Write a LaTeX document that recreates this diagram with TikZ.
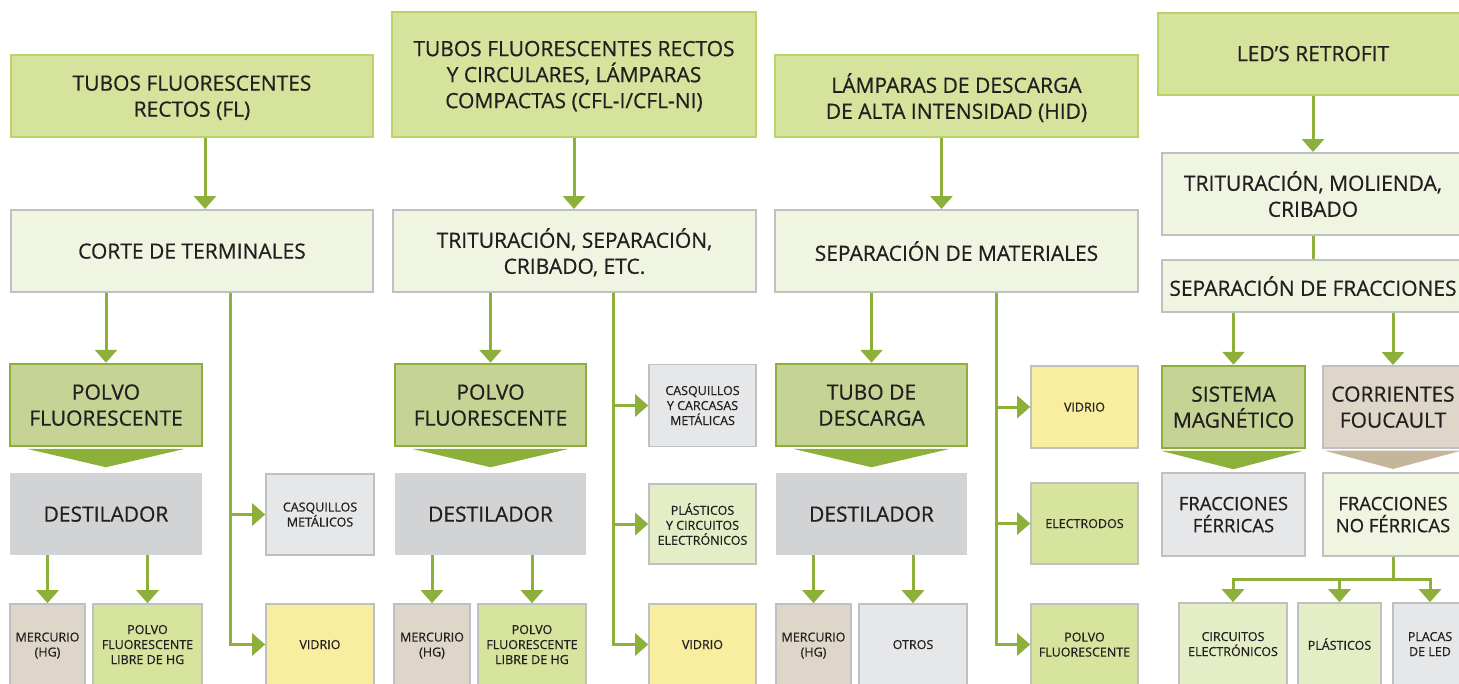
\documentclass[tikz,border=0pt]{standalone}
\usepackage{fontspec}
\setmainfont{Open Sans}[FakeBold=0.6]
\usetikzlibrary{arrows.meta}

\definecolor{txtdark}{HTML}{231F20}
\definecolor{topfill}{HTML}{D5E39C}
\definecolor{topline}{HTML}{B8D468}
\definecolor{procfill}{HTML}{F0F5E1}
\definecolor{boxline}{HTML}{BFC0C2}
\definecolor{keyfill}{HTML}{C5D394}
\definecolor{arrgreen}{HTML}{8DB03B}
\definecolor{destfill}{HTML}{D1D3D4}
\definecolor{beigefill}{HTML}{DED7C9}
\definecolor{greyfill}{HTML}{E6E7E8}
\definecolor{yellowfill}{HTML}{F9EDA0}
\definecolor{palegreen}{HTML}{E3EEC7}
\definecolor{lightgreen}{HTML}{D6E49E}
\definecolor{tanfill}{HTML}{C5B59B}

\newcommand\bigtxt{\fontsize{21}{26}\selectfont}
\newcommand\midtxt{\fontsize{18.5}{22}\selectfont}
\newcommand\smalltxt{\fontsize{12.5}{15}\selectfont}

\begin{document}
\begin{tikzpicture}[x=1pt,y=-1pt,
  every node/.style={text=txtdark, align=center, inner sep=0pt, text depth=0pt},
  topbox/.style={draw=topline, fill=topfill, line width=2pt, font=\bigtxt},
  procbox/.style={draw=boxline, fill=procfill, line width=2pt, font=\bigtxt},
  keybox/.style={draw=arrgreen, fill=keyfill, line width=2.5pt, font=\bigtxt},
  destbox/.style={fill=destfill, font=\bigtxt},
  outbox/.style={draw=boxline, line width=1.6pt, font=\smalltxt},
  arr/.style={draw=arrgreen, line width=3pt, -{Triangle[width=22pt,length=13pt]}},
  link/.style={draw=arrgreen, line width=3pt}]
  \useasboundingbox (0,0) rectangle (1459,683);
  \clip (0,0) rectangle (1459,683);

  % Tubos fluorescentes rectos
  \node[topbox, minimum width=362pt, minimum height=82pt] (topFL) at (192,96) {TUBOS FLUORESCENTES\\RECTOS (FL)};
  \node[procbox, minimum width=362pt, minimum height=82pt] (corteFL) at (192,251) {CORTE DE TERMINALES};
  \node[keybox, minimum width=192pt, minimum height=82pt] (polvoFL) at (106,405) {POLVO\\FLUORESCENTE};
  \node[destbox, minimum width=192pt, minimum height=82pt] (destFL) at (106,514) {DESTILADOR};
  \node[outbox, fill=beigefill, minimum width=75pt, minimum height=81pt] (mercFL) at (47.5,644.5) {MERCURIO\\(HG)};
  \node[outbox, fill=lightgreen, minimum width=109pt, minimum height=81pt] (libreFL) at (147.5,644.5) {POLVO\\FLUORESCENTE\\LIBRE DE HG};
  \node[outbox, fill=greyfill, minimum width=108pt, minimum height=81pt] (casqFL) at (320,514.5) {CASQUILLOS\\METÁLICOS};
  \node[outbox, fill=yellowfill, minimum width=108pt, minimum height=81pt] (vidrFL) at (320,644.5) {VIDRIO};
  \coordinate (trunkFL) at ([xshift=38pt]corteFL.south);

  \draw[arr] ([xshift=13pt]topFL.south) -- ([xshift=13pt]corteFL.north);
  \draw[arr] (polvoFL.north |- corteFL.south) -- (polvoFL.north);
  \draw[arr] (trunkFL) |- (casqFL.west);
  \draw[arr] (trunkFL) |- (vidrFL.west);
  \draw[arr] (mercFL.north |- destFL.south) -- (mercFL.north);
  \draw[arr] (libreFL.north |- destFL.south) -- (libreFL.north);
  \fill[arrgreen] ([shift={(18,1.5)}]polvoFL.south west) -- ([shift={(-18,1.5)}]polvoFL.south east) -- ([yshift=-20pt]polvoFL.south) -- cycle;

  % Tubos rectos y circulares, CFL
  \node[topbox, minimum width=364pt, minimum height=125pt] (topCFL) at (574,74.5) {TUBOS FLUORESCENTES RECTOS\\Y CIRCULARES, LÁMPARAS\\COMPACTAS (CFL-I/CFL-NI)};
  \node[procbox, minimum width=363pt, minimum height=82pt] (tritCFL) at (574.5,251) {TRITURACIÓN, SEPARACIÓN,\\CRIBADO, ETC.};
  \node[keybox, minimum width=191pt, minimum height=82pt] (polvoCFL) at (490.5,405) {POLVO\\FLUORESCENTE};
  \node[destbox, minimum width=191pt, minimum height=82pt] (destCFL) at (490.5,514) {DESTILADOR};
  \node[outbox, fill=beigefill, minimum width=76pt, minimum height=81pt] (mercCFL) at (432,644.5) {MERCURIO\\(HG)};
  \node[outbox, fill=lightgreen, minimum width=108pt, minimum height=81pt] (libreCFL) at (532,644.5) {POLVO\\FLUORESCENTE\\LIBRE DE HG};
  \node[outbox, fill=greyfill, minimum width=107pt, minimum height=82pt] (casqCFL) at (702.5,405.5) {CASQUILLOS\\Y CARCASAS\\METÁLICAS};
  \node[outbox, fill=palegreen, minimum width=107pt, minimum height=80pt] (plastCFL) at (702.5,524) {PLÁSTICOS\\Y CIRCUITOS\\ELECTRÓNICOS};
  \node[outbox, fill=yellowfill, minimum width=107pt, minimum height=81pt] (vidrCFL) at (702.5,644.5) {VIDRIO};
  \coordinate (trunkCFL) at ([xshift=38.5pt]tritCFL.south);

  \draw[arr] (topCFL.south) -- (topCFL.south |- tritCFL.north);
  \draw[arr] (polvoCFL.north |- tritCFL.south) -- (polvoCFL.north);
  \draw[arr] (trunkCFL) |- (casqCFL.west);
  \draw[arr] (trunkCFL) |- (plastCFL.west);
  \draw[arr] (trunkCFL) |- (vidrCFL.west);
  \draw[arr] (mercCFL.north |- destCFL.south) -- (mercCFL.north);
  \draw[arr] (libreCFL.north |- destCFL.south) -- (libreCFL.north);
  \fill[arrgreen] ([shift={(18,1.5)}]polvoCFL.south west) -- ([shift={(-18,1.5)}]polvoCFL.south east) -- ([yshift=-20pt]polvoCFL.south) -- cycle;

  % Lamparas HID
  \node[topbox, minimum width=363pt, minimum height=82pt] (topHID) at (956.5,96) {LÁMPARAS DE DESCARGA\\DE ALTA INTENSIDAD (HID)};
  \node[procbox, minimum width=363pt, minimum height=82pt] (sepHID) at (956.5,251) {SEPARACIÓN DE MATERIALES};
  \node[keybox, minimum width=191pt, minimum height=82pt] (tuboHID) at (871.5,405) {TUBO DE\\DESCARGA};
  \node[destbox, minimum width=191pt, minimum height=82pt] (destHID) at (871.5,514) {DESTILADOR};
  \node[outbox, fill=beigefill, minimum width=75pt, minimum height=81pt] (mercHID) at (813.5,644.5) {MERCURIO\\(HG)};
  \node[outbox, fill=greyfill, minimum width=108pt, minimum height=81pt] (otrosHID) at (913,644.5) {OTROS};
  \node[outbox, fill=yellowfill, minimum width=107pt, minimum height=82pt] (vidrHID) at (1084.5,407) {VIDRIO};
  \node[outbox, fill=lightgreen, minimum width=107pt, minimum height=81pt] (electHID) at (1084.5,523.5) {ELECTRODOS};
  \node[outbox, fill=lightgreen, minimum width=107pt, minimum height=81pt] (polvHID) at (1084.5,644.5) {POLVO\\FLUORESCENTE};
  \coordinate (trunkHID) at ([xshift=39.5pt]sepHID.south);

  \draw[arr] ([xshift=-15pt]topHID.south) -- ([xshift=-15pt]sepHID.north);
  \draw[arr] (tuboHID.north |- sepHID.south) -- (tuboHID.north);
  \draw[arr] (trunkHID) |- (vidrHID.west);
  \draw[arr] (trunkHID) |- (electHID.west);
  \draw[arr] (trunkHID) |- (polvHID.west);
  \draw[arr] (mercHID.north |- destHID.south) -- (mercHID.north);
  \draw[arr] (otrosHID.north |- destHID.south) -- (otrosHID.north);
  \fill[arrgreen] ([shift={(18,1.5)}]tuboHID.south west) -- ([shift={(-18,1.5)}]tuboHID.south east) -- ([yshift=-20pt]tuboHID.south) -- cycle;

  % LED retrofit
  \node[topbox, minimum width=310pt, minimum height=82pt] (topLED) at (1313,53.5) {LED’S RETROFIT};
  \node[procbox, minimum width=302pt, minimum height=82pt] (tritLED) at (1313,194) {TRITURACIÓN, MOLIENDA,\\CRIBADO};
  \node[procbox, minimum width=302pt, minimum height=52pt] (sepLED) at (1313,286) {SEPARACIÓN DE FRACCIONES};
  \node[keybox, minimum width=143pt, minimum height=82pt] (sistLED) at (1233.5,407) {SISTEMA\\MAGNÉTICO};
  \node[procbox, fill=beigefill, minimum width=140pt, minimum height=82pt] (corrLED) at (1393,407) {CORRIENTES\\FOUCAULT};
  \node[procbox, fill=greyfill, font=\midtxt, minimum width=143pt, minimum height=83pt] (fracFer) at (1233.5,514.5) {FRACCIONES\\FÉRRICAS};
  \node[procbox, font=\midtxt, minimum width=140pt, minimum height=83pt] (fracNoFer) at (1393,514.5) {FRACCIONES\\NO FÉRRICAS};
  \node[outbox, fill=palegreen, minimum width=108pt, minimum height=82pt] (circLED) at (1233,644) {CIRCUITOS\\ELECTRÓNICOS};
  \node[outbox, fill=palegreen, minimum width=83pt, minimum height=82pt] (plasLED) at (1339.5,644) {PLÁSTICOS};
  \node[outbox, fill=greyfill, minimum width=74pt, minimum height=82pt] (placLED) at (1430,644) {PLACAS\\DE LED};

  \draw[arr] (topLED.south) -- (tritLED.north);
  \draw[link] (tritLED.south) -- (sepLED.north);
  \draw[arr] (sistLED.north |- sepLED.south) -- (sistLED.north);
  \draw[arr] (corrLED.north |- sepLED.south) -- (corrLED.north);
  \fill[arrgreen] ([shift={(0,1.5)}]sistLED.south west) -- ([shift={(-3,1.5)}]sistLED.south east) -- ([yshift=-20pt]sistLED.south) -- cycle;
  \fill[tanfill] ([shift={(2,1.5)}]corrLED.south west) -- ([shift={(-2,1.5)}]corrLED.south east) -- ([yshift=-20pt]corrLED.south) -- cycle;
  \draw[link] (fracNoFer.south) -- ++(0,22) coordinate (jLED);
  \draw[arr] (jLED) -| (circLED.north);
  \draw[arr] (jLED) -| (placLED.north);
  \draw[arr] (plasLED.north |- jLED) -- (plasLED.north);
\end{tikzpicture}
\end{document}
